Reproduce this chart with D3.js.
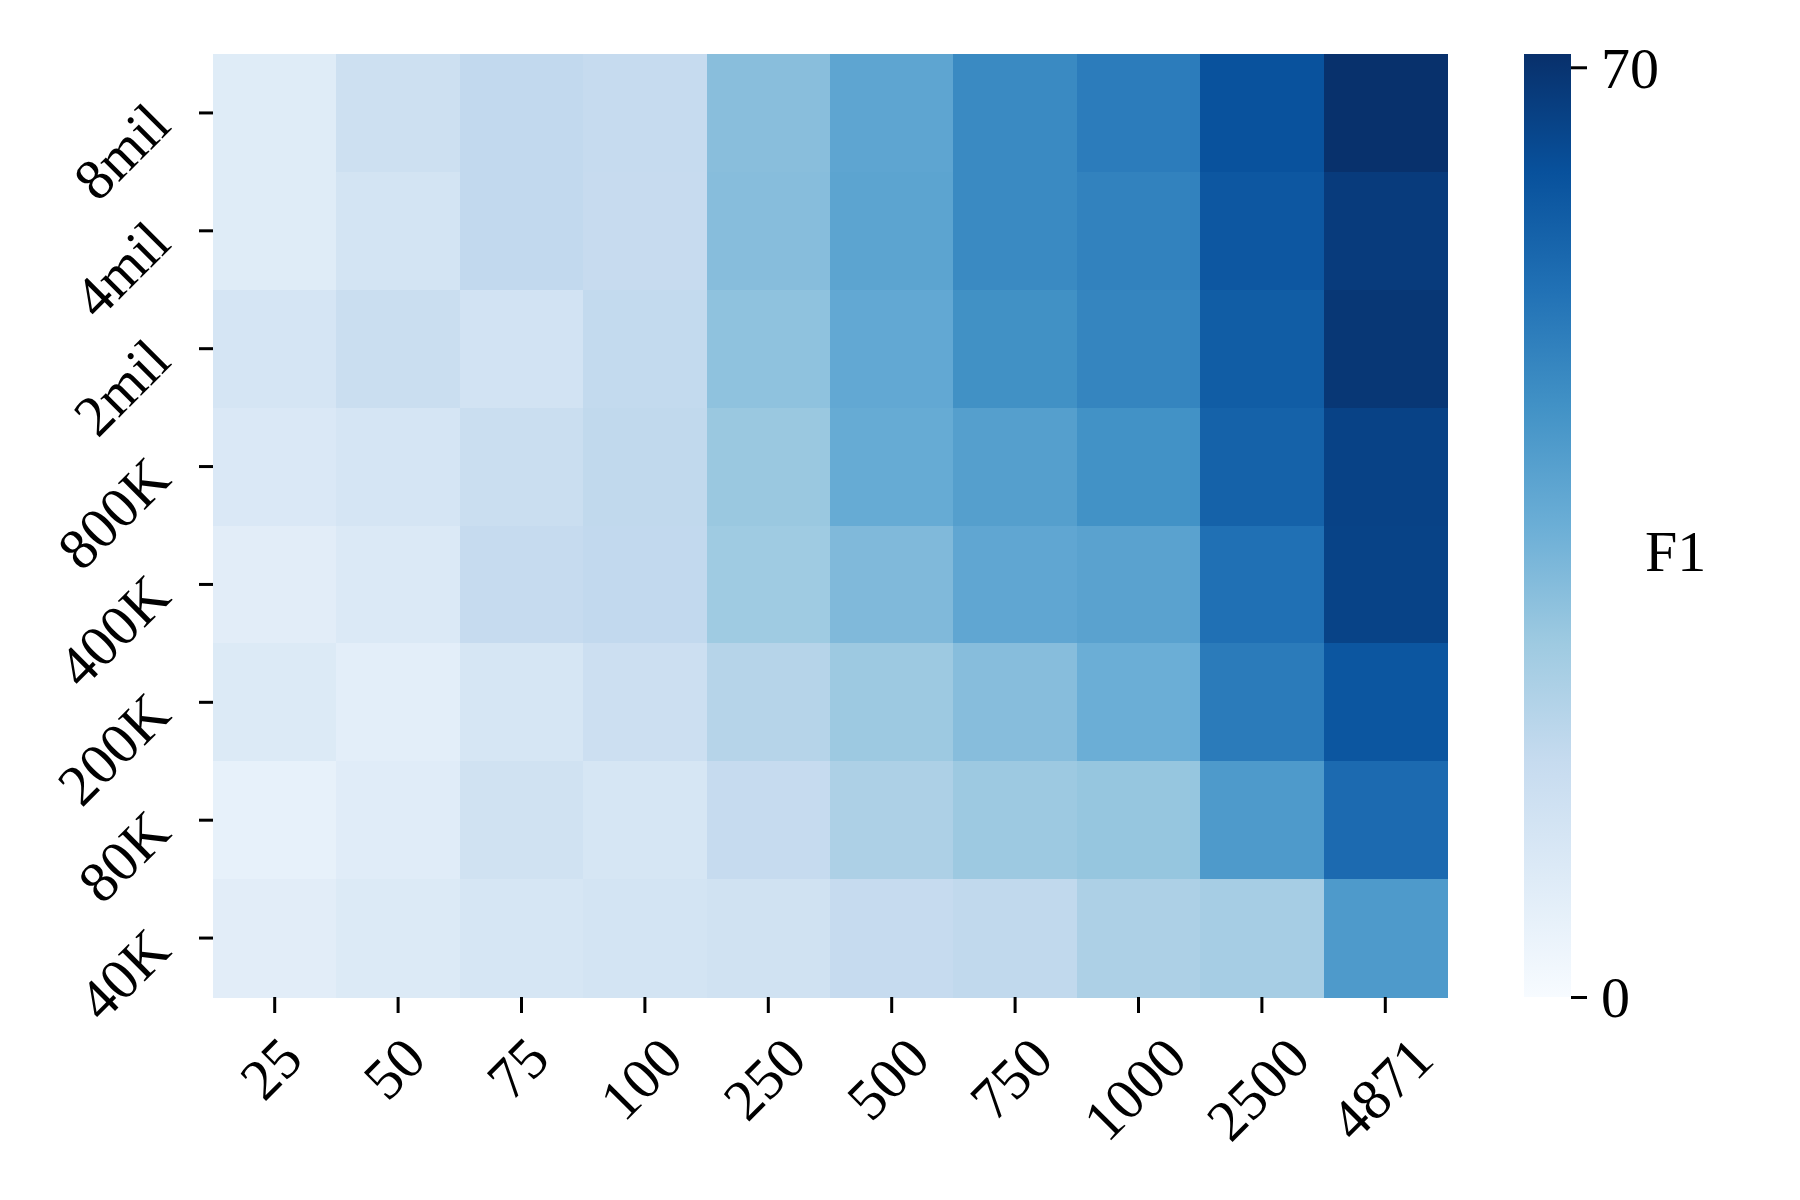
<!DOCTYPE html>
<html>
<head>
<meta charset="utf-8">
<script src="https://cdn.jsdelivr.net/npm/d3@7"></script>
<style>
  body { margin: 0; background: #fff; }
  svg text { font-family: "Liberation Serif", "Times New Roman", serif; fill: #000; }
</style>
</head>
<body>
<div id="chart"></div>
<script>
// Data
const cols = ["25", "50", "75", "100", "250", "500", "750", "1000", "2500", "4871"];
const rows = ["8mil", "4mil", "2mil", "800K", "400K", "200K", "80K", "40K"];
const f1 = [
  [8.5, 15.2, 18.6, 17.7, 30.3, 38.3, 46.5, 50.3, 61.8, 70.8],  // 8mil
  [8.5, 12.9, 18.6, 17.5, 30.6, 38.7, 46.5, 48.6, 60.4, 68.0],  // 4mil
  [12.2, 16.3, 13.3, 18.4, 29.3, 37.4, 44.7, 47.9, 58.8, 69.1], // 2mil
  [10.4, 12.2, 16.3, 18.9, 27.3, 36.6, 40.3, 44.4, 57.5, 66.1], // 800K
  [7.5, 10.0, 17.7, 18.6, 26.3, 31.9, 37.9, 39.2, 53.6, 66.0],  // 400K
  [9.6, 7.1, 11.8, 15.4, 21.3, 26.8, 30.6, 35.5, 50.6, 60.7],   // 200K
  [5.7, 8.2, 14.0, 11.8, 17.7, 23.3, 26.8, 28.0, 41.8, 55.2],   // 80K
  [7.5, 9.6, 11.8, 12.9, 14.0, 17.7, 18.9, 23.3, 24.9, 41.8]    // 40K
];
const cbarTicks = [0, 70];
const vmin = 0, vmax = 71;
const cbarLabel = "F1";

// matplotlib "Blues"
const blues = ["#f7fbff", "#deebf7", "#c6dbef", "#9ecae1", "#6baed6",
               "#4292c6", "#2171b5", "#08519c", "#08306b"];

// Layout
const W = 1800, H = 1200, fs = 58;
const plot = { left: 213, right: 1447, top: 54, bottom: 997 };
const cbar = { left: 1524, width: 47 };

const svg = d3.select("#chart").append("svg")
  .attr("width", W)
  .attr("height", H);

// Scales
const x = d3.scaleBand().domain(cols).range([plot.left, plot.right]);
const y = d3.scaleBand().domain(rows).range([plot.top, plot.bottom]);
const color = d3.scaleLinear()
  .domain(blues.map((_, i) => vmin + (vmax - vmin) * i / (blues.length - 1)))
  .range(blues)
  .interpolate(d3.interpolateRgb)
  .clamp(true);

// Cells
const cells = [];
rows.forEach((r, i) => cols.forEach((c, j) => cells.push({ r, c, v: f1[i][j] })));

svg.append("g")
  .selectAll("rect")
  .data(cells)
  .enter()
  .append("rect")
  .attr("x", d => x(d.c))
  .attr("y", d => y(d.r))
  .attr("width", x.bandwidth() + 0.5)
  .attr("height", y.bandwidth() + 0.5)
  .attr("fill", d => color(d.v))
  .attr("shape-rendering", "crispEdges");

// X axis
const gx = svg.append("g")
  .attr("transform", `translate(0,${plot.bottom})`)
  .call(d3.axisBottom(x).tickSize(16).tickSizeOuter(0));
gx.select(".domain").remove();
gx.selectAll(".tick line").attr("stroke", "#000").attr("stroke-width", 3);
gx.selectAll(".tick text")
  .attr("font-size", fs)
  .attr("text-anchor", "middle")
  .attr("y", 0)
  .attr("dy", "0.34em")
  .attr("transform", function () {
    const L = this.getComputedTextLength();
    const cy = 37 + (L + 0.676 * fs) / (2 * Math.SQRT2);
    return `translate(-4,${cy}) rotate(-45)`;
  });

// Y axis
const gy = svg.append("g")
  .attr("transform", `translate(${plot.left},0)`)
  .call(d3.axisLeft(y).tickSize(14).tickSizeOuter(0));
gy.select(".domain").remove();
gy.selectAll(".tick line").attr("stroke", "#000").attr("stroke-width", 3);
gy.selectAll(".tick text")
  .attr("font-size", fs)
  .attr("text-anchor", "end")
  .attr("x", 0)
  .attr("dy", 0)
  .attr("transform", "translate(-40,15) rotate(-45)");

// Colorbar
const grad = svg.append("defs").append("linearGradient")
  .attr("id", "cbar-grad")
  .attr("x1", 0).attr("y1", 1)
  .attr("x2", 0).attr("y2", 0);
grad.selectAll("stop")
  .data(blues)
  .enter()
  .append("stop")
  .attr("offset", (d, i) => i / (blues.length - 1))
  .attr("stop-color", d => d);

const cy = d3.scaleLinear().domain([vmin, vmax]).range([plot.bottom, plot.top]);

svg.append("rect")
  .attr("x", cbar.left)
  .attr("y", plot.top)
  .attr("width", cbar.width)
  .attr("height", plot.bottom - plot.top)
  .attr("fill", "url(#cbar-grad)");

const gc = svg.append("g")
  .attr("transform", `translate(${cbar.left + cbar.width},0)`)
  .call(d3.axisRight(cy).tickValues(cbarTicks).tickSize(16).tickPadding(14).tickSizeOuter(0));
gc.select(".domain").remove();
gc.selectAll(".tick line").attr("stroke", "#000").attr("stroke-width", 3);
gc.selectAll(".tick text")
  .attr("font-size", fs)
  .attr("dy", "0.34em");

svg.append("text")
  .attr("x", 1645)
  .attr("y", 571)
  .attr("font-size", fs)
  .text(cbarLabel);
</script>
</body>
</html>
